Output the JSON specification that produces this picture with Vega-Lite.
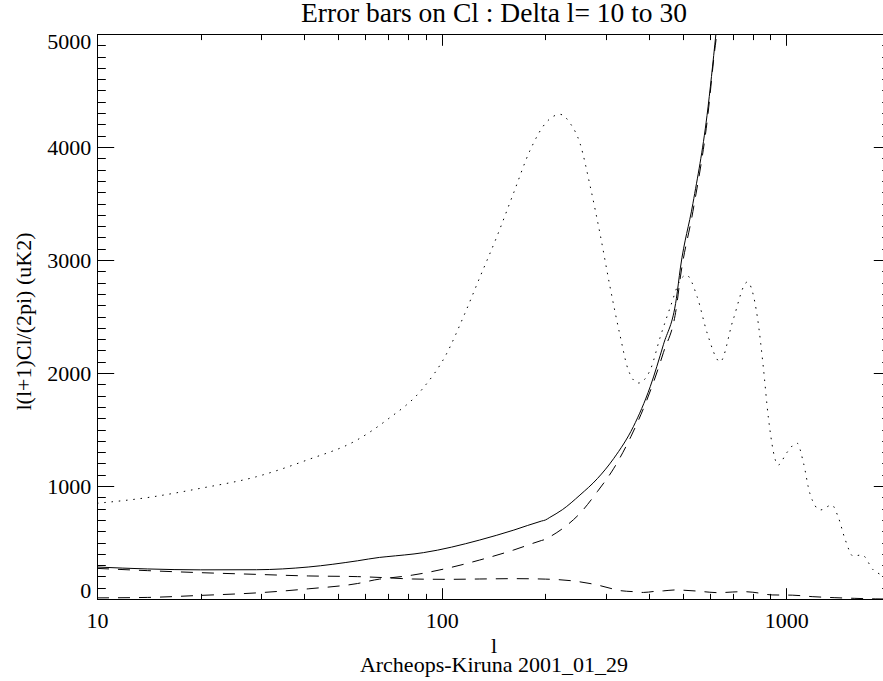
{
  "$schema": "https://vega.github.io/schema/vega-lite/v6.json",
  "width": 793,
  "height": 565,
  "autosize": {"type": "none"},
  "padding": {"left": 97, "top": 34, "right": -7, "bottom": 82},
  "background": "white",
  "config": {
    "view": {"stroke": null},
    "font": "Liberation Serif",
    "axis": {"grid": false, "domainColor": "black", "domainWidth": 1, "tickColor": "black", "tickWidth": 1, "labelFont": "Liberation Serif", "labelFontSize": 22, "labelColor": "black", "titleFont": "Liberation Serif", "titleFontSize": 22, "titleFontWeight": "normal", "titleColor": "black"}
  },
  "datasets": {
    "cl": [
      {"l": 10, "v": 847}, {"l": 13.9, "v": 896}, {"l": 20, "v": 980}, {"l": 29, "v": 1082}, {"l": 40.7, "v": 1230}, {"l": 56.8, "v": 1407}, {"l": 69.3, "v": 1584}, {"l": 88, "v": 1860}, {"l": 103.5, "v": 2174}, {"l": 115.7, "v": 2498}, {"l": 129.3, "v": 2852}, {"l": 144.6, "v": 3206}, {"l": 161.6, "v": 3590}, {"l": 180.7, "v": 3973}, {"l": 202, "v": 4224}, {"l": 220.8, "v": 4289}, {"l": 236, "v": 4210}, {"l": 252, "v": 4033}, {"l": 270, "v": 3649}, {"l": 288, "v": 3236}, {"l": 308, "v": 2764}, {"l": 330, "v": 2321}, {"l": 348, "v": 2027}, {"l": 372, "v": 1911}, {"l": 403, "v": 2027}, {"l": 431, "v": 2320}, {"l": 461, "v": 2585}, {"l": 492, "v": 2820}, {"l": 513, "v": 2867}, {"l": 552, "v": 2670}, {"l": 590, "v": 2350}, {"l": 643, "v": 2100}, {"l": 701, "v": 2470}, {"l": 771, "v": 2805}, {"l": 824, "v": 2500}, {"l": 858, "v": 2050}, {"l": 887, "v": 1610}, {"l": 948, "v": 1186}, {"l": 1002, "v": 1292}, {"l": 1074, "v": 1380}, {"l": 1122, "v": 1204}, {"l": 1170, "v": 938}, {"l": 1256, "v": 788}, {"l": 1356, "v": 832}, {"l": 1414, "v": 728}, {"l": 1484, "v": 522}, {"l": 1563, "v": 380}, {"l": 1659, "v": 390}, {"l": 1789, "v": 257}, {"l": 1890, "v": 212}, {"l": 2000, "v": 170}
    ],
    "tot": [
      {"l": 10, "v": 283}, {"l": 14, "v": 266}, {"l": 20, "v": 258}, {"l": 29, "v": 259}, {"l": 41, "v": 283}, {"l": 57, "v": 338}, {"l": 66, "v": 368}, {"l": 69, "v": 374}, {"l": 88.5, "v": 410}, {"l": 129, "v": 522}, {"l": 162, "v": 610}, {"l": 195, "v": 690}, {"l": 200, "v": 699}, {"l": 206, "v": 722}, {"l": 224, "v": 790}, {"l": 252, "v": 920}, {"l": 283, "v": 1065}, {"l": 316, "v": 1245}, {"l": 360, "v": 1525}, {"l": 403, "v": 1879}, {"l": 440, "v": 2250}, {"l": 480, "v": 2660}, {"l": 493, "v": 2930}, {"l": 536, "v": 3500}, {"l": 589, "v": 4280}, {"l": 625, "v": 5000}
    ],
    "cv": [
      {"l": 10, "v": 271}, {"l": 14, "v": 251}, {"l": 20, "v": 233}, {"l": 29, "v": 218}, {"l": 41, "v": 204}, {"l": 57, "v": 198}, {"l": 67, "v": 190}, {"l": 82.5, "v": 177}, {"l": 103.5, "v": 174}, {"l": 129, "v": 177}, {"l": 162, "v": 180}, {"l": 200, "v": 176}, {"l": 242, "v": 159}, {"l": 283, "v": 124}, {"l": 313, "v": 90}, {"l": 330, "v": 74}, {"l": 360, "v": 65}, {"l": 385, "v": 58}, {"l": 417, "v": 68}, {"l": 440, "v": 72}, {"l": 476, "v": 80}, {"l": 500, "v": 78}, {"l": 552, "v": 70}, {"l": 600, "v": 60}, {"l": 635, "v": 56}, {"l": 700, "v": 62}, {"l": 750, "v": 65}, {"l": 800, "v": 60}, {"l": 910, "v": 36}, {"l": 1041, "v": 34}, {"l": 1189, "v": 21}, {"l": 1377, "v": 12}, {"l": 1574, "v": 6}, {"l": 1812, "v": 1}, {"l": 2000, "v": 0}
    ],
    "noise": [
      {"l": 10, "v": 10}, {"l": 14, "v": 14}, {"l": 20, "v": 32}, {"l": 29, "v": 54}, {"l": 41, "v": 90}, {"l": 57, "v": 137}, {"l": 66, "v": 176}, {"l": 69, "v": 183}, {"l": 82.5, "v": 212}, {"l": 103.5, "v": 271}, {"l": 129, "v": 345}, {"l": 162, "v": 434}, {"l": 195, "v": 518}, {"l": 200, "v": 528}, {"l": 206, "v": 550}, {"l": 225, "v": 626}, {"l": 252, "v": 758}, {"l": 283, "v": 950}, {"l": 316, "v": 1157}, {"l": 354, "v": 1436}, {"l": 394, "v": 1761}, {"l": 440, "v": 2180}, {"l": 480, "v": 2580}, {"l": 493, "v": 2850}, {"l": 536, "v": 3430}, {"l": 589, "v": 4220}, {"l": 625, "v": 4940}, {"l": 629, "v": 5000}
    ]
  },
  "layer": [
    {
      "data": {"name": "cl"},
      "mark": {"type": "line", "color": "black", "strokeWidth": 1, "strokeDash": [1.5, 5.8], "clip": true, "interpolate": "monotone"},
      "encoding": {
        "x": {"field": "l", "type": "quantitative", "scale": {"type": "log", "domain": [10, 2000], "nice": false},
          "axis": {"orient": "bottom", "values": [10, 100, 1000], "format": "d", "tickSize": -11.3, "labelPadding": 22.4, "labelFlush": false, "labelOverlap": false,
            "title": ["l", "Archeops-Kiruna 2001_01_29"], "titleFont": "Liberation Serif", "titleFontSize": 22, "titleFontWeight": "normal", "titleBaseline": "top", "titleY": 36.3, "titleLineHeight": 19}},
        "y": {"field": "v", "type": "quantitative", "scale": {"domain": [0, 5000], "nice": false, "zero": false},
          "axis": {"orient": "left", "values": [0, 1000, 2000, 3000, 4000, 5000], "format": "d", "tickSize": -16.7, "labelPadding": 23, "labelFlush": true, "labelFlushOffset": 3, "labelOverlap": false,
            "title": "l(l+1)Cl/(2pi) (uK2)", "titleFont": "Liberation Serif", "titleFontSize": 22, "titleFontWeight": "normal", "titleX": -67, "titleY": 287, "titleAngle": -90, "titleBaseline": "alphabetic", "titleAlign": "center"}}
      }
    },
    {
      "data": {"name": "tot"},
      "mark": {"type": "line", "color": "black", "strokeWidth": 1, "clip": true, "interpolate": "monotone"},
      "encoding": {
        "x": {"field": "l", "type": "quantitative", "scale": {"type": "log", "domain": [10, 2000], "nice": false},
          "axis": {"orient": "bottom", "values": [20, 30, 40, 50, 60, 70, 80, 90, 200, 300, 400, 500, 600, 700, 800, 900, 2000], "tickSize": -5.6, "labels": false, "title": null}},
        "y": {"field": "v", "type": "quantitative", "scale": {"domain": [0, 5000], "nice": false, "zero": false},
          "axis": {"orient": "left", "values": [100, 200, 300, 400, 500, 600, 700, 800, 900, 1100, 1200, 1300, 1400, 1500, 1600, 1700, 1800, 1900, 2100, 2200, 2300, 2400, 2500, 2600, 2700, 2800, 2900, 3100, 3200, 3300, 3400, 3500, 3600, 3700, 3800, 3900, 4100, 4200, 4300, 4400, 4500, 4600, 4700, 4800, 4900], "tickSize": -8.3, "labels": false, "title": null}}
      }
    },
    {
      "data": {"name": "cv"},
      "mark": {"type": "line", "color": "black", "strokeWidth": 1, "strokeDash": [12, 9], "clip": true, "interpolate": "monotone"},
      "encoding": {
        "x": {"field": "l", "type": "quantitative", "scale": {"type": "log", "domain": [10, 2000], "nice": false},
          "axis": {"orient": "top", "values": [10, 100, 1000], "tickSize": -11.3, "labels": false,
            "title": "Error bars on Cl : Delta l= 10 to 30", "titleFont": "Liberation Serif", "titleFontSize": 27.5, "titleFontWeight": "normal", "titleBaseline": "alphabetic", "titleY": -12.5, "titleAlign": "center"}},
        "y": {"field": "v", "type": "quantitative", "scale": {"domain": [0, 5000], "nice": false, "zero": false},
          "axis": {"orient": "right", "values": [0, 1000, 2000, 3000, 4000, 5000], "tickSize": -16.7, "labels": false, "title": null}}
      }
    },
    {
      "data": {"name": "noise"},
      "mark": {"type": "line", "color": "black", "strokeWidth": 1, "strokeDash": [12, 9], "clip": true, "interpolate": "monotone"},
      "encoding": {
        "x": {"field": "l", "type": "quantitative", "scale": {"type": "log", "domain": [10, 2000], "nice": false},
          "axis": {"orient": "top", "values": [20, 30, 40, 50, 60, 70, 80, 90, 200, 300, 400, 500, 600, 700, 800, 900, 2000], "tickSize": -5.6, "labels": false, "title": null}},
        "y": {"field": "v", "type": "quantitative", "scale": {"domain": [0, 5000], "nice": false, "zero": false},
          "axis": {"orient": "right", "values": [100, 200, 300, 400, 500, 600, 700, 800, 900, 1100, 1200, 1300, 1400, 1500, 1600, 1700, 1800, 1900, 2100, 2200, 2300, 2400, 2500, 2600, 2700, 2800, 2900, 3100, 3200, 3300, 3400, 3500, 3600, 3700, 3800, 3900, 4100, 4200, 4300, 4400, 4500, 4600, 4700, 4800, 4900], "tickSize": -8.3, "labels": false, "title": null}}
      }
    }
  ],
  "resolve": {"axis": {"x": "independent", "y": "independent"}}
}
